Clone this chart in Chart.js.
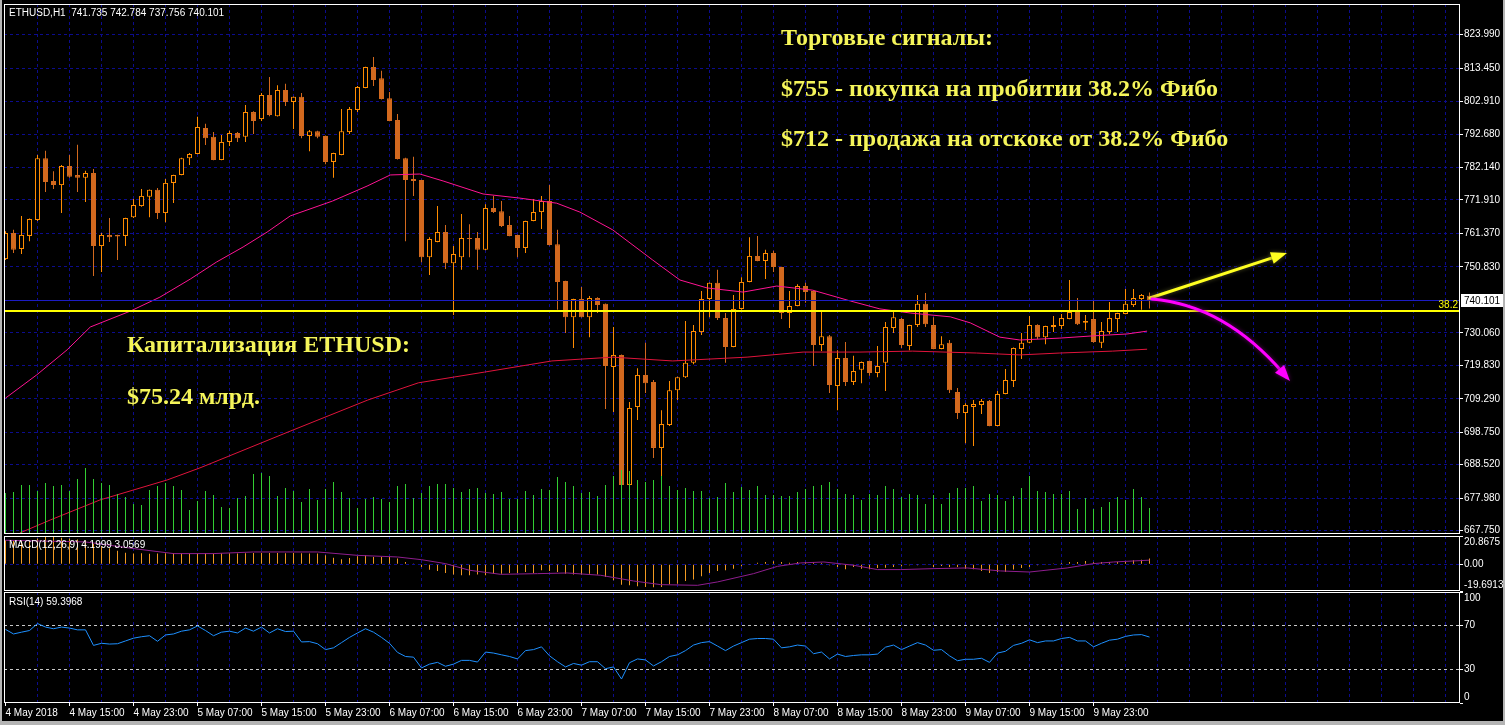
<!DOCTYPE html>
<html><head><meta charset="utf-8">
<script src="https://cdn.jsdelivr.net/npm/chart.js@4.4.1/dist/chart.umd.min.js"></script>
<style>
html,body{margin:0;padding:0;background:#000;}
#wrap{position:relative;width:1505px;height:725px;overflow:hidden;background:#000;}
#wrap canvas{position:absolute;left:0;}
.edge{position:absolute;background:#b4b4b4;}
</style></head><body>
<div id="wrap">
<canvas id="cMain" width="1505" height="540" style="top:0"></canvas>
<canvas id="cMacd" width="1505" height="58" style="top:534px"></canvas>
<canvas id="cRsi" width="1505" height="137" style="top:588px"></canvas>
<div class="edge" style="left:0;top:0;width:2px;height:725px"></div>
<div class="edge" style="left:1503px;top:0;width:2px;height:725px"></div>
<div class="edge" style="left:0;top:721px;width:1505px;height:4px"></div>
</div>
<script>
// ---------------- DATA ----------------
const symbol = 'ETHUSD,H1';
const timeLabels = ['4 May 2018','4 May 15:00','4 May 23:00','5 May 07:00','5 May 15:00','5 May 23:00','6 May 07:00','6 May 15:00','6 May 23:00','7 May 07:00','7 May 15:00','7 May 23:00','8 May 07:00','8 May 15:00','8 May 23:00','9 May 07:00','9 May 15:00','9 May 23:00'];
const priceTicks = [823.99,813.45,802.91,792.68,782.14,771.91,761.37,750.83,730.06,719.83,709.29,698.75,688.52,677.98,667.75];
const macdTicks = [20.8675, 0, -19.6913];
const rsiTicks = [100, 70, 30, 0];
const rsiLevels = [70, 30];
const fibLevel = 736.87;
const fibLabel = '38.2';

const opens = [753.3,761.5,756.5,760.6,765.6,785.1,777.9,776.6,782.6,779.8,
778.9,780.4,757.4,760.9,760.9,760.6,766.5,770.0,772.9,775.1,
767.8,777.3,779.8,785.1,786.4,794.6,791.8,784.5,790.2,793.0,
791.8,799.6,797.4,805.0,798.3,806.6,802.8,804.4,792.1,793.6,
792.1,783.9,786.1,793.3,800.3,807.2,813.8,810.3,804.0,797.1,
785.1,778.5,778.2,753.9,758.7,761.8,752.0,753.9,759.9,759.9,
756.2,769.4,768.4,764.0,760.9,756.8,765.3,768.1,771.6,758.0,
746.4,735.0,740.7,735.0,741.0,739.2,719.3,723.1,682.1,706.7,
716.8,714.6,693.8,701.0,712.0,716.1,720.6,730.3,740.7,745.8,
734.7,725.6,737.6,746.1,754.3,752.7,755.2,750.8,736.3,738.5,
744.8,743.2,726.2,729.0,713.3,722.1,714.6,718.4,721.2,717.4,
720.6,731.6,734.4,725.9,732.5,739.2,732.5,725.0,726.9,711.4,
704.8,706.7,707.3,708.6,700.7,710.8,714.9,725.0,726.9,732.5,
728.7,731.9,732.2,734.4,736.6,733.2,734.4,726.9,730.3,734.4,
736.0,738.8,740.7,741.735];
const highs = [762.1,762.5,766.9,766.1,786.1,787.4,781.0,782.9,786.1,789.3,
781.1,781.7,761.5,766.2,761.0,766.3,772.2,775.4,775.2,775.7,
778.5,779.9,785.2,786.7,798.1,795.9,793.3,792.4,793.7,793.3,
801.8,799.9,805.6,810.7,808.1,808.5,804.5,805.6,794.0,793.7,
792.2,786.8,800.6,801.2,807.8,813.9,817.0,812.6,805.9,799.0,
785.2,785.5,778.3,760.2,770.0,764.0,757.4,767.5,764.3,761.8,
770.6,773.2,771.6,766.9,761.0,765.4,772.2,773.2,776.6,762.5,
746.5,740.8,744.5,741.7,741.3,739.3,731.9,723.2,708.3,718.9,
726.9,715.2,705.7,714.9,716.2,733.8,732.5,743.2,745.9,749.9,
736.3,742.0,747.6,760.2,760.6,756.2,755.9,750.9,743.2,745.4,
745.8,743.3,736.6,729.4,724.6,727.2,722.8,721.0,721.3,725.9,
733.5,736.6,734.7,732.6,742.0,742.6,735.0,729.0,727.8,712.7,
707.9,708.9,709.2,708.9,711.7,718.7,725.4,730.0,735.4,732.8,
732.3,735.4,736.0,746.7,741.0,735.7,740.4,733.5,739.8,736.4,
743.9,743.9,742.3,742.784];
const lows = [753.0,755.2,754.9,758.9,765.3,774.4,775.4,767.8,778.9,774.4,
771.3,748.0,749.2,758.7,753.0,757.4,766.2,769.8,766.5,765.9,
764.9,771.0,779.7,782.9,786.3,789.2,784.4,784.4,788.9,790.2,
790.2,792.7,796.8,798.3,798.2,801.5,794.3,791.4,787.3,791.4,
783.2,778.9,786.0,792.7,799.6,807.1,807.8,803.6,796.7,784.7,
758.9,773.2,752.3,748.3,758.6,750.2,735.7,749.9,753.9,749.9,
756.1,767.8,763.4,760.5,753.9,755.2,765.2,762.8,757.6,737.3,
730.0,725.3,734.9,728.7,736.3,706.1,705.1,682.0,682.0,702.6,
711.1,690.6,684.6,700.7,708.9,715.8,720.2,729.4,735.0,734.1,
720.6,725.5,737.3,746.0,752.6,747.0,749.2,734.4,731.6,738.4,
739.5,719.6,724.3,711.1,705.7,713.3,713.6,714.2,716.5,716.1,
711.7,730.0,725.3,724.6,731.9,731.9,724.9,724.9,711.1,702.9,
695.3,694.4,704.5,700.6,700.6,710.7,713.0,721.8,726.8,728.1,
726.5,730.3,731.3,734.3,732.5,730.9,726.9,725.3,729.7,730.3,
735.9,738.2,737.3,737.756];
const closes = [761.5,756.2,760.9,765.9,785.1,777.6,776.6,782.6,779.2,778.9,
780.4,757.4,760.9,760.2,760.4,766.2,770.3,773.2,775.1,767.8,
777.3,779.8,785.1,786.4,794.9,791.4,784.5,790.2,793.0,791.4,
799.6,796.8,805.0,798.7,806.6,802.8,804.4,792.1,793.6,791.8,
783.9,786.7,793.6,800.6,807.5,813.8,809.7,803.7,796.8,784.8,
778.2,777.9,753.9,759.6,761.8,752.0,754.9,759.9,759.6,756.2,
769.4,768.1,763.7,760.6,756.8,765.3,768.1,771.6,757.7,746.1,
735.0,740.7,735.0,741.0,738.8,719.6,723.1,682.1,706.4,716.8,
714.2,693.8,701.3,712.0,716.1,720.6,730.6,740.7,745.8,734.7,
725.6,737.6,746.1,754.3,752.7,755.2,750.8,736.3,738.5,744.8,
742.9,726.2,729.0,713.6,722.1,714.6,718.0,720.9,717.4,719.6,
731.9,735.0,726.2,732.5,739.2,732.8,725.0,726.5,712.0,704.8,
707.3,707.6,708.6,700.7,710.8,715.2,725.3,726.9,732.5,728.7,
732.2,732.5,734.7,736.6,732.8,733.8,727.2,730.6,734.7,736.3,
739.2,741.0,742.0,740.101];
const volumes = [41,42,49,49,43,51,48,49,43,55,
66,55,51,49,40,37,30,29,44,48,
51,48,44,24,33,43,39,27,26,36,
38,60,61,58,38,46,43,32,45,34,
45,52,42,36,26,35,37,35,32,48,
50,36,41,48,50,50,46,42,45,46,
41,40,42,35,35,43,39,45,44,57,
52,48,41,42,38,49,58,64,63,54,
52,54,58,48,44,46,43,43,36,37,
51,42,47,44,48,39,39,38,38,42,
45,48,49,52,45,40,39,34,40,39,
48,45,37,40,39,30,39,30,41,46,
46,48,33,40,39,33,38,46,58,43,
42,40,40,43,25,36,25,27,32,37,
34,45,37,26];
// moving averages read at points: [bar index, price]
const maFast = [[0,709.5],[3.9,716.8],[7.7,724.7],[10.6,731.9],[15.6,736.9],[19.3,741.3],[23.1,747.0],[26.4,752.4],[29.7,757.1],[32.7,761.8],[35.6,766.9],[40.9,771.6],[45.2,776.3],[48.1,779.8],[51.8,780.1],[54.7,777.9],[59.7,773.8],[64.3,772.5],[68.9,770.9],[71.8,768.1],[75.9,762.5],[80.9,753.0],[84.3,746.7],[87.7,744.2],[92.2,742.9],[96.4,744.8],[100.9,743.5],[105.6,740.1],[109.3,737.6],[113.1,736.3],[118.1,735.1],[120.6,733.2],[124.3,728.7],[126.8,727.8],[131.8,728.4],[135.9,729.1],[140.2,729.7],[142.7,730.6]];
const maSlow = [[1.8,667.0],[5.6,671.1],[11.8,677.4],[20.2,683.7],[24.3,687.5],[35.6,699.1],[45.3,708.9],[51.6,714.3],[59.9,717.7],[68.3,721.2],[75.9,722.4],[83.4,721.2],[92.7,722.4],[99.7,724.0],[106.8,724.0],[113.4,724.3],[121.4,723.7],[126.8,723.1],[131.8,723.7],[138.4,724.3],[142.7,724.9]];
const macdMain = [17.8,17.6,17.3,17.5,19.0,20.8675,20.2,19.6,19.0,18.3,17.6,15.2,13.4,11.8,
10.0,8.6,8.0,8.2,7.8,8.0,8.2,8.2,8.4,8.2,8.2,8.4,7.9,8.2,8.2,7.9,8.2,8.4,8.4,8.4,8.4,8.2,8.4,8.2,7.9,7.9,
6.6,4.9,3.7,4.6,5.9,6.6,5.4,5.4,5.4,4.2,1.7,0.5,-2.0,-4.0,-4.9,-6.4,-7.6,-8.1,-8.1,-7.6,-8.1,-6.9,
-6.9,-6.4,-6.4,-5.7,-6.4,-4.4,-4.9,-5.7,-6.9,-7.6,-7.6,-6.9,-7.6,-9.3,-11.8,-15.0,-15.5,-16.2,-16.7,-17.0,-16.7,-14.7,-14.3,-12.3,-11.3,-8.8,-6.4,-4.9,-4.4,-3.2,-1.5,-0.2,1.2,1.7,2.2,1.7,1.2,1.7,1.7,1.7,1.0,-0.7,-2.0,-3.7,-2.0,-3.2,-3.7,-2.7,-2.5,-2.0,-1.5,-0.7,-0.7,-0.2,-2.0,-1.2,-2.0,-2.0,-3.2,-3.7,-4.9,-6.4,-5.7,
-5.7,-3.9,-2.7,-2.0,-0.7,-0.2,0.5,1.0,1.7,1.7,2.5,1.5,1.7,1.7,1.7,1.7,2.9,3.4,4.1999];
const macdSignal = [[0,17.7],[10,16.5],[16,11.6],[21,7.9],[26,7.9],[31,9.1],[39,9.1],[44,6.6],[49,5.4],[52,3.4],[55,0.5],[58,-4.4],[61.9,-7.4],[66.5,-6.9],[70.2,-6.4],[74.4,-8.1],[78.5,-12.3],[81.9,-15.0],[86.5,-15.5],[89,-13.0],[93.5,-6.9],[96.5,-1.5],[99.4,1.0],[102.3,1.7],[106,-0.7],[109,-3.9],[111.9,-3.9],[116,-3.2],[120.2,-2.7],[124.4,-4.9],[128,-5.7],[132.7,-2.7],[136,0.5],[138.5,1.7],[143,3.0569]];
const rsi = [66.3,62.2,63.8,65.3,71.6,68.4,66.9,68.4,67.5,65.9,65.9,51.9,53.8,53.1,53.4,55.9,58.4,59.7,60.6,55.6,
61.3,62.2,64.7,65.9,69.4,65.3,60.6,63.8,64.7,63.1,67.5,64.7,68.4,63.1,66.9,64.4,64.7,55.0,55.3,53.4,
48.1,49.7,54.4,59.1,63.1,66.9,63.8,59.1,53.8,45.6,41.9,41.3,31.6,35.0,36.6,33.1,35.0,38.4,38.4,36.9,45.9,45.0,
43.4,41.9,39.7,47.2,48.1,50.6,42.5,37.2,32.5,35.6,34.1,37.2,37.2,30.9,32.5,21.6,36.3,39.7,38.8,33.4,37.2,41.9,43.4,47.2,52.2,54.4,55.3,51.3,47.2,51.3,54.4,57.5,58.1,58.1,57.5,49.7,50.6,52.2,51.3,44.4,45.9,39.7,44.1,41.9,42.8,43.4,43.4,44.1,50.3,52.2,48.1,51.3,54.4,52.2,47.5,48.1,42.5,38.1,39.4,39.4,40.3,36.6,45.0,
46.6,51.9,53.8,56.9,54.4,55.9,55.9,58.1,59.1,55.9,55.9,50.6,53.8,56.6,57.5,60.0,61.3,61.6,59.3968];
// annotation arrows in data units [bar, price]
const upArrow = {from:[143.06,741.03], to:[160.19,755.21]};
const downArrow = {from:[143.31,740.72], ctrl:[152.4,738.83], to:[160.56,714.88]};
const notes = [
  {text:'Торговые сигналы:', x:781, y:45},
  {text:'$755 - покупка на пробитии 38.2% Фибо', x:781, y:96},
  {text:'$712 - продажа на отскоке от 38.2% Фибо', x:781, y:146},
  {text:'Капитализация ETHUSD:', x:127, y:352},
  {text:'$75.24 млрд.', x:127, y:404}
];

// ---------------- STYLE ----------------
const N = closes.length;
const idx = Array.from({length:N}, (_, i) => i);
const last = N - 1;
const lastClose = closes[last];
const X_MIN = -0.1875, X_MAX = X_MIN + 182;
const GRID = '#0c0c8e';
const FONT = 'Liberation Sans';
const BULL = '#FF8C00', BEAR = '#D2691E';
const NOTE_COLOR = '#F5F55A';
Chart.defaults.font.family = FONT;
Chart.defaults.font.size = 10;
Chart.defaults.color = '#ffffff';

function xScale(showLabels, height) {
  return {
    type: 'linear', min: X_MIN, max: X_MAX, offset: false,
    afterBuildTicks: s => { const t = []; for (let v = 0; v <= X_MAX; v += 4) t.push({value: v}); s.ticks = t; },
    afterFit: s => { s.height = height; s.paddingLeft = 0; s.paddingRight = 0; },
    grid: {
      offset: false, lineWidth: 1, drawTicks: showLabels, tickLength: 3,
      color: c => (c.tick && c.tick.value > 0) ? GRID : 'rgba(0,0,0,0)',
      tickColor: c => (c.tick && c.tick.value % 8 === 0 && c.tick.value / 8 < timeLabels.length) ? '#ffffff' : 'rgba(0,0,0,0)'
    },
    border: {display: false, dash: [3, 3]},
    ticks: {
      display: showLabels, autoSkip: false, maxRotation: 0, minRotation: 0, align: 'start', padding: 1,
      color: '#ffffff', font: {family: FONT, size: 10},
      callback: v => (v % 8 === 0 && v / 8 < timeLabels.length) ? timeLabels[v / 8] : ''
    }
  };
}
function yScale(ticks, min, max, gridColor, fmt) {
  return {
    position: 'right', min: min, max: max,
    afterBuildTicks: s => { s.ticks = ticks.map(v => ({value: v})); },
    afterFit: s => { s.width = 45; s.paddingTop = 0; s.paddingBottom = 0; },
    grid: {lineWidth: 1, tickLength: 3, tickColor: '#ffffff', color: gridColor},
    border: {display: false, dash: [3, 3]},
    ticks: {autoSkip: false, padding: 1, color: '#ffffff', font: {family: FONT, size: 10}, callback: fmt}
  };
}
function frame(chart) {
  const {ctx, chartArea: a} = chart;
  ctx.save(); ctx.strokeStyle = '#ffffff'; ctx.lineWidth = 1;
  ctx.strokeRect(a.left + 0.5, a.top + 0.5, a.width - 1, a.height - 1);
  ctx.restore();
}
function arrowHead(ctx, x1, y1, x2, y2, len, w, color) {
  const ang = Math.atan2(y2 - y1, x2 - x1);
  ctx.save(); ctx.translate(x2, y2); ctx.rotate(ang);
  ctx.beginPath(); ctx.moveTo(0, 0); ctx.lineTo(-len, -w / 2); ctx.lineTo(-len, w / 2); ctx.closePath();
  ctx.fillStyle = color; ctx.fill(); ctx.restore();
}
const baseOpts = (padding, scales) => ({
  responsive: false, animation: false, devicePixelRatio: 1,
  layout: {padding: padding, autoPadding: false},
  plugins: {legend: {display: false}, tooltip: {enabled: false}},
  events: [],
  scales: scales
});

// ---------------- MAIN CHART ----------------
const mainDecor = {
  id: 'mainDecor',
  afterDatasetsDraw(chart) {
    const {ctx, chartArea: a, scales: {x, y}} = chart;
    ctx.save();
    ctx.beginPath(); ctx.rect(a.left, a.top, a.width, a.height); ctx.clip();
    // bid line
    const yb = Math.round(y.getPixelForValue(lastClose)) - 0.5;
    ctx.strokeStyle = '#1c1cc4'; ctx.lineWidth = 1;
    ctx.beginPath(); ctx.moveTo(a.left, yb); ctx.lineTo(a.right, yb); ctx.stroke();
    // fibo line
    const yf = Math.round(y.getPixelForValue(fibLevel));
    ctx.strokeStyle = '#FFFF00'; ctx.lineWidth = 2;
    ctx.beginPath(); ctx.moveTo(a.left, yf); ctx.lineTo(a.right, yf); ctx.stroke();
    ctx.fillStyle = '#FFFF00'; ctx.font = '10px ' + FONT; ctx.textAlign = 'right'; ctx.textBaseline = 'alphabetic';
    ctx.fillText(fibLabel, a.right - 2, yf - 3);
    // annotations
    ctx.fillStyle = NOTE_COLOR; ctx.textAlign = 'left'; ctx.font = 'bold 24px "Liberation Serif"';
    notes.forEach(n => ctx.fillText(n.text, n.x, n.y));
    // up arrow
    const ux1 = x.getPixelForValue(upArrow.from[0]), uy1 = y.getPixelForValue(upArrow.from[1]);
    const ux2 = x.getPixelForValue(upArrow.to[0]), uy2 = y.getPixelForValue(upArrow.to[1]);
    ctx.shadowColor = 'rgba(90,90,40,0.9)'; ctx.shadowBlur = 4;
    const ang = Math.atan2(uy2 - uy1, ux2 - ux1);
    ctx.strokeStyle = '#FFFF20'; ctx.lineWidth = 3; ctx.lineCap = 'round';
    ctx.beginPath(); ctx.moveTo(ux1, uy1); ctx.lineTo(ux2 - 10 * Math.cos(ang), uy2 - 10 * Math.sin(ang)); ctx.stroke();
    arrowHead(ctx, ux1, uy1, ux2, uy2, 16, 12, '#FFFF20');
    // down arrow (curve)
    const dx1 = x.getPixelForValue(downArrow.from[0]), dy1 = y.getPixelForValue(downArrow.from[1]);
    const cx = x.getPixelForValue(downArrow.ctrl[0]), cy = y.getPixelForValue(downArrow.ctrl[1]);
    const dx2 = x.getPixelForValue(downArrow.to[0]), dy2 = y.getPixelForValue(downArrow.to[1]);
    ctx.shadowColor = 'rgba(120,0,120,0.9)';
    const dang = Math.atan2(dy2 - cy, dx2 - cx);
    ctx.strokeStyle = '#FF00FF';
    ctx.beginPath(); ctx.moveTo(dx1, dy1); ctx.quadraticCurveTo(cx, cy, dx2 - 10 * Math.cos(dang), dy2 - 10 * Math.sin(dang)); ctx.stroke();
    arrowHead(ctx, cx, cy, dx2, dy2, 16, 12, '#FF00FF');
    ctx.restore();
    // current price label box
    ctx.save();
    const yp = y.getPixelForValue(lastClose);
    ctx.fillStyle = '#ffffff'; ctx.fillRect(a.right + 1, Math.round(yp) - 7, 43, 13);
    ctx.fillStyle = '#000000'; ctx.font = '10px ' + FONT; ctx.textAlign = 'left'; ctx.textBaseline = 'middle';
    ctx.fillText(lastClose.toFixed(3), a.right + 4, Math.round(yp));
    // title
    ctx.fillStyle = '#ffffff'; ctx.textBaseline = 'alphabetic';
    ctx.fillText(symbol + '  ' + [opens[last], highs[last], lows[last], closes[last]].map(v => v.toFixed(3)).join(' '), a.left + 5, 16);
    ctx.restore();
    frame(chart);
  }
};
new Chart(document.getElementById('cMain'), {
  type: 'bar',
  data: {datasets: [
    {label: 'volume', type: 'bar', yAxisID: 'yv', order: 0, grouped: false, barThickness: 1, inflateAmount: 0,
     backgroundColor: '#32CD32', data: idx.map(i => ({x: i, y: volumes[i]}))},
    {label: 'MA fast', type: 'line', yAxisID: 'y', order: 1, borderColor: '#FF1493', borderWidth: 1, pointRadius: 0,
     data: maFast.map(p => ({x: p[0], y: p[1]}))},
    {label: 'MA slow', type: 'line', yAxisID: 'y', order: 1, borderColor: '#E0143C', borderWidth: 1, pointRadius: 0,
     data: maSlow.map(p => ({x: p[0], y: p[1]}))},
    {label: 'bodies', type: 'bar', yAxisID: 'y', order: 2, grouped: false, barThickness: 5, inflateAmount: 0, minBarLength: 1,
     borderWidth: 1, borderSkipped: false,
     backgroundColor: idx.map(i => closes[i] >= opens[i] ? '#000000' : BEAR),
     borderColor: idx.map(i => closes[i] >= opens[i] ? BULL : BEAR),
     data: idx.map(i => ({x: i, y: [opens[i], closes[i]]}))},
    {label: 'wicks', type: 'bar', yAxisID: 'y', order: 3, grouped: false, barThickness: 1, inflateAmount: 0,
     backgroundColor: idx.map(i => closes[i] >= opens[i] ? BULL : BEAR),
     data: idx.map(i => ({x: i, y: [lows[i], highs[i]]}))}
  ]},
  options: baseOpts({left: 4, top: 4, right: 0, bottom: 6}, {
    x: xScale(false, 0),
    y: yScale(priceTicks, 666.68, 833.66, GRID, v => v.toFixed(3)),
    yv: {display: false, min: 0, max: 530}
  }),
  plugins: [mainDecor]
});

// ---------------- MACD ----------------
const macdDecor = {
  id: 'macdDecor',
  afterDatasetsDraw(chart) {
    const {ctx, chartArea: a} = chart;
    ctx.save(); ctx.fillStyle = '#ffffff'; ctx.font = '10px ' + FONT; ctx.textBaseline = 'alphabetic';
    ctx.fillText('MACD(12,26,9) ' + macdMain[last].toFixed(4) + ' ' + macdSignal[macdSignal.length - 1][1].toFixed(4), a.left + 5, a.top + 12);
    ctx.restore();
    frame(chart);
  }
};
new Chart(document.getElementById('cMacd'), {
  type: 'bar',
  data: {datasets: [
    {label: 'signal', type: 'line', order: 0, borderColor: '#8E1E8E', borderWidth: 1, pointRadius: 0,
     data: macdSignal.map(p => ({x: p[0], y: p[1]}))},
    {label: 'macd', type: 'bar', order: 1, grouped: false, barThickness: 1, inflateAmount: 0, backgroundColor: '#F29a22',
     data: idx.map(i => ({x: i, y: macdMain[i]}))}
  ]},
  options: baseOpts({left: 4, top: 2, right: 0, bottom: 1}, {
    x: xScale(false, 0),
    y: yScale(macdTicks, -19.6913, 20.8675, c => (c.tick && c.tick.value === 0) ? GRID : 'rgba(0,0,0,0)',
      v => v === 0 ? '0.00' : (v > 0 ? ['', String(v)] : [String(v), '']))
  }),
  plugins: [macdDecor]
});

// ---------------- RSI ----------------
const rsiDecor = {
  id: 'rsiDecor',
  afterDatasetsDraw(chart) {
    const {ctx, chartArea: a} = chart;
    ctx.save(); ctx.fillStyle = '#ffffff'; ctx.font = '10px ' + FONT; ctx.textBaseline = 'alphabetic';
    ctx.fillText('RSI(14) ' + rsi[last].toFixed(4), a.left + 5, a.top + 13);
    ctx.restore();
    frame(chart);
  }
};
new Chart(document.getElementById('cRsi'), {
  type: 'line',
  data: {datasets: [
    {label: 'RSI', borderColor: '#1E90FF', borderWidth: 1, pointRadius: 0, data: idx.map(i => ({x: i, y: rsi[i]}))}
  ]},
  options: baseOpts({left: 4, top: 4, right: 0, bottom: 0}, {
    x: xScale(true, 22),
    y: yScale(rsiTicks, 0, 100, c => (c.tick && rsiLevels.includes(c.tick.value)) ? '#c8c8c8' : 'rgba(0,0,0,0)',
      v => v === 100 ? ['', '100'] : (v === 0 ? ['0', ''] : String(v)))
  }),
  plugins: [rsiDecor]
});
</script>
</body></html>
